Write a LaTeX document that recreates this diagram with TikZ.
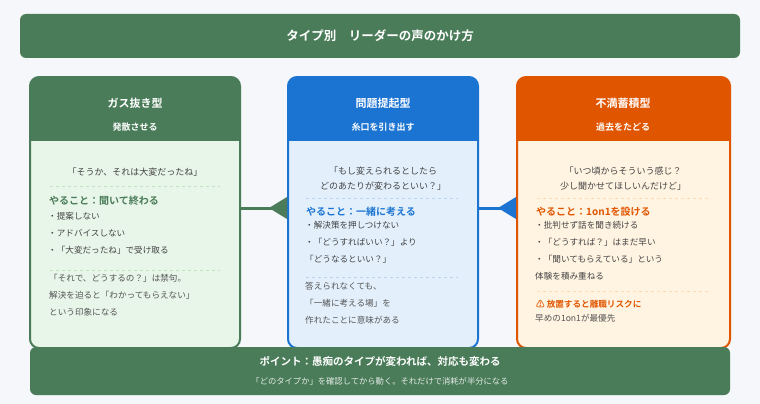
\documentclass[tikz,border=0pt]{standalone}
\usepackage{fontspec}
\setmainfont{Noto Sans CJK JP}[BoldFont={Noto Sans CJK JP Bold}]
\usetikzlibrary{positioning}
\definecolor{bgGray}{HTML}{F5F7FA}
\definecolor{darkGreen}{HTML}{4A7C59}
\definecolor{paleGreen}{HTML}{E8F5E9}
\definecolor{midBlue}{HTML}{1C74D2}
\definecolor{paleBlue}{HTML}{E3F0FC}
\definecolor{deepOrange}{HTML}{E05600}
\definecolor{paleOrange}{HTML}{FFF3E1}
\definecolor{textGray}{HTML}{444444}
\definecolor{noteGray}{HTML}{555555}
\begin{document}
\begin{tikzpicture}[x=1pt,y=-1pt,%%
  barStyle/.style={fill=darkGreen,rounded corners=6pt},%%
  headStyle/.style={text=white,font=\bfseries\fontsize{11}{13}\selectfont},%%
  subStyle/.style={text=white,font=\bfseries\fontsize{9}{11}\selectfont},%%
  quoteStyle/.style={text=textGray,font=\fontsize{9}{15}\selectfont,align=center},%%
  bodyStyle/.style={text=textGray,font=\fontsize{8.6}{17}\selectfont,align=left,anchor=north west,inner sep=0pt},%%
  todoStyle/.style={font=\bfseries\fontsize{10}{12}\selectfont,anchor=west,inner sep=0pt},%%
  sepStyle/.style={dashed,line width=0.8pt},%%
  linkStyle/.style={line width=3pt}%%
]
%%
\useasboundingbox[fill=bgGray] (0,0) rectangle (760,404);
%%
%% Macro for one card: left, right, header colour, body colour.
\newcommand{\drawCard}[5]{%
  \begin{scope}
    \clip[rounded corners=9pt] (#1,77) rectangle (#2,348);
    \fill[#4] (#1,77) rectangle (#2,348);
    \fill[#3] (#1,77) rectangle (#2,141);
  \end{scope}
  \draw[#3,line width=2pt,rounded corners=9pt] (#1,77) rectangle (#2,348);
  \coordinate (#5) at ({(#1+#2)/2},77);}
%%
%% Title bar.
\fill[barStyle] (20,14) rectangle (740,58);
\node[text=white,font=\bfseries\fontsize{12.5}{15}\selectfont] (title) at (380,36) {タイプ別　リーダーの声のかけ方};
%%
%% Cards.
\drawCard{30}{240}{darkGreen}{paleGreen}{gasTop}
\drawCard{288}{478}{midBlue}{paleBlue}{ideaTop}
\drawCard{517}{730}{deepOrange}{paleOrange}{stockTop}
%%
\node[headStyle] (gasHead) at (135,103) {ガス抜き型};
\node[subStyle] (gasSub) at (135,127) {発散させる};
\node[headStyle] (ideaHead) at (383,103) {問題提起型};
\node[subStyle] (ideaSub) at (383,127) {糸口を引き出す};
\node[headStyle] (stockHead) at (623,103) {不満蓄積型};
\node[subStyle] (stockSub) at (623,127) {過去をたどる};
%%
%% Connectors between cards.
\coordinate (gasRight) at (241,208);
\coordinate (ideaLeft) at (287,208);
\coordinate (ideaRight) at (479,208);
\coordinate (stockLeft) at (516,208);
\draw[linkStyle,darkGreen] (gasRight) -- (ideaLeft);
\fill[darkGreen] (ideaLeft) ++(0,-11) -- ++(-18,11) -- ++(18,11) -- cycle;
\draw[linkStyle,midBlue] (ideaRight) -- (stockLeft);
\fill[midBlue] (stockLeft) ++(0,-11) -- ++(-18,11) -- ++(18,11) -- cycle;
%%
%% Green card contents.
\node[quoteStyle] (gasQuote) at (135,172) {「そうか、それは大変だったね」};
\draw[sepStyle,green!60!black!25] (50,186) -- (220,186);
\node[todoStyle,darkGreen] (gasTodo) at (49,201) {やること：聞いて終わる};
\node[bodyStyle] (gasList) at (48,212) {・提案しない\\・アドバイスしない\\・「大変だったね」で受け取る};
\draw[sepStyle,green!60!black!25] (50,270) -- (220,270);
\node[bodyStyle,text=noteGray] (gasNote) at (49,274) {「それで、どうするの？」は禁句。\\解決を迫ると「わかってもらえない」\\という印象になる};
%%
%% Blue card contents.
\node[quoteStyle] (ideaQuote) at (383,179) {「もし変えられるとしたら\\どのあたりが変わるといい？」};
\draw[sepStyle,midBlue!30] (306,198) -- (458,198);
\node[todoStyle,midBlue] (ideaTodo) at (306,212) {やること：一緒に考える};
\node[bodyStyle] (ideaList) at (305,221) {・解決策を押しつけない\\・「どうすればいい？」より\\「どうなるといい？」};
\draw[sepStyle,midBlue!30] (306,277) -- (458,277);
\node[bodyStyle,text=noteGray] (ideaNote) at (305,282) {答えられなくても、\\「一緒に考える場」を\\作れたことに意味がある};
%%
%% Orange card contents.
\node[quoteStyle] (stockQuote) at (623,179) {「いつ頃からそういう感じ？\\少し聞かせてほしいんだけど」};
\draw[sepStyle,orange!30] (537,198) -- (711,198);
\node[todoStyle,deepOrange] (stockTodo) at (536,212) {やること：1on1を設ける};
\node[bodyStyle] (stockList) at (535,221) {・批判せず話を聞き続ける\\・「どうすれば？」はまだ早い\\・「聞いてもらえている」という\\体験を積み重ねる};
\draw[sepStyle,orange!30] (537,291) -- (711,291);
\node[todoStyle,deepOrange,font=\bfseries\fontsize{8.6}{10}\selectfont] (stockWarn) at (536,304) {⚠ 放置すると離職リスクに};
\node[bodyStyle,text=noteGray] (stockNote) at (535,314) {早めの1on1が最優先};
%%
%% Point bar.
\fill[barStyle] (30,347) rectangle (730,395);
\node[text=white,font=\bfseries\fontsize{10.5}{13}\selectfont] (pointMain) at (380,361) {ポイント：愚痴のタイプが変われば、対応も変わる};
\node[text=white!85!darkGreen,font=\fontsize{8.3}{10}\selectfont] (pointSub) at (380,381) {「どのタイプか」を確認してから動く。それだけで消耗が半分になる};
\end{tikzpicture}
\end{document}
